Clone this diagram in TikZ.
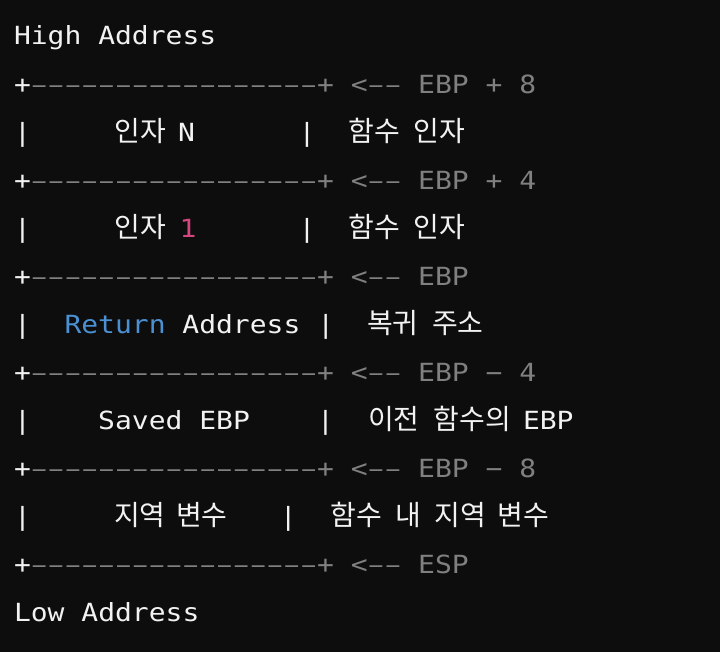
\documentclass[tikz,border=0pt]{standalone}
\usepackage{fontspec}
\usepackage{graphicx}
\newfontfamily\monof[FakeStretch=1.12,Ligatures=TeXOff]{DejaVu Sans Mono}
\newfontfamily\krf{Noto Sans CJK KR}
\definecolor{bgc}{HTML}{0D0D0D}
\definecolor{fgc}{HTML}{F2F2F2}
\definecolor{grc}{HTML}{808080}
\definecolor{pkc}{HTML}{D6457F}
\definecolor{blc}{HTML}{4A90D2}
\newcommand\dsh{\makebox[16.84pt]{\scalebox{0.76}[1]{–}}}
\newcommand\dashrun{\dsh\dsh\dsh\dsh\dsh\dsh\dsh\dsh\dsh\dsh\dsh\dsh\dsh\dsh\dsh\dsh\dsh}
\tikzset{
  txt/.style={inner sep=0pt,outer sep=0pt,anchor=base west,text=fgc},
  mono/.style={txt,font=\monof\fontsize{25}{30}\selectfont},
  kr/.style={txt,font=\krf\fontsize{28}{30}\selectfont},
  gray/.style={mono,text=grc},
}
\begin{document}
\begin{tikzpicture}[x=1pt,y=-1pt]
\fill[bgc] (0,0) rectangle (720,652);
\useasboundingbox (0,0) rectangle (720,652);
% row 0
\node[mono] (high) at (14,{45+48.05*0}) {High Address};
% row 1
\node[mono] (p1) at (14,{45+48.05*1}) {+};
\node[gray] (d1) at ({14+16.84},{45+48.05*1}) {\dashrun+ <\dsh\dsh{} EBP + 8};
% row 2
\node[mono] (l2) at (14,{45+48.05*2}) {|};
\node[kr] (a2) at (114.5,{45+48.05*2}) {인자};
\node[mono] (n2) at (178,{45+48.05*2}) {N};
\node[mono] (r2) at (298.6,{45+48.05*2}) {|};
\node[kr] (c2) at (348.5,{45+48.05*2}) {함수};
\node[kr] (e2) at (413.5,{45+48.05*2}) {인자};
% row 3
\node[mono] (p3) at (14,{45+48.05*3}) {+};
\node[gray] (d3) at ({14+16.84},{45+48.05*3}) {\dashrun+ <\dsh\dsh{} EBP + 4};
% row 4
\node[mono] (l4) at (14,{45+48.05*4}) {|};
\node[kr] (a4) at (114.5,{45+48.05*4}) {인자};
\node[mono,text=pkc] (n4) at (179.6,{45+48.05*4}) {1};
\node[mono] (r4) at (298.6,{45+48.05*4}) {|};
\node[kr] (c4) at (348.5,{45+48.05*4}) {함수};
\node[kr] (e4) at (413.5,{45+48.05*4}) {인자};
% row 5
\node[mono] (p5) at (14,{45+48.05*5}) {+};
\node[gray] (d5) at ({14+16.84},{45+48.05*5}) {\dashrun+ <\dsh\dsh{} EBP};
% row 6
\node[mono] (l6) at (14,{45+48.05*6}) {|};
\node[mono,text=blc] (ret) at ({14+16.84*3},{45+48.05*6}) {Return};
\node[mono] (addr) at ({14+16.84*10},{45+48.05*6}) {Address |};
\node[kr] (c6) at (367,{45+48.05*6}) {복귀};
\node[kr] (e6) at (432,{45+48.05*6}) {주소};
% row 7
\node[mono] (p7) at (14,{45+48.05*7}) {+};
\node[gray] (d7) at ({14+16.84},{45+48.05*7}) {\dashrun+ <\dsh\dsh{} EBP − 4};
% row 8
\node[mono] (l8) at (14,{45+48.05*8}) {|};
\node[mono] (sav) at ({14+16.84*5},{45+48.05*8}) {Saved EBP};
\node[mono] (r8) at ({14+16.84*18},{45+48.05*8}) {|};
\node[kr] (c8) at (368,{45+48.05*8}) {이전};
\node[kr] (e8) at (433.5,{45+48.05*8}) {함수의};
\node[mono] (f8) at (523,{45+48.05*8}) {EBP};
% row 9
\node[mono] (p9) at (14,{45+48.05*9}) {+};
\node[gray] (d9) at ({14+16.84},{45+48.05*9}) {\dashrun+ <\dsh\dsh{} EBP − 8};
% row 10
\node[mono] (l10) at (14,{45+48.05*10}) {|};
\node[kr] (a10) at (114,{45+48.05*10}) {지역};
\node[kr] (b10) at (176,{45+48.05*10}) {변수};
\node[mono] (r10) at (279.9,{45+48.05*10}) {|};
\node[kr] (c10) at (330.5,{45+48.05*10}) {함수};
\node[kr] (e10) at (395.5,{45+48.05*10}) {내};
\node[kr] (f10) at (434.5,{45+48.05*10}) {지역};
\node[kr] (g10) at (497.5,{45+48.05*10}) {변수};
% row 11
\node[mono] (p11) at (14,{45+48.05*11}) {+};
\node[gray] (d11) at ({14+16.84},{45+48.05*11}) {\dashrun+ <\dsh\dsh{} ESP};
% row 12
\node[mono] (low) at (14,{45+48.05*12}) {Low Address};
\end{tikzpicture}
\end{document}
